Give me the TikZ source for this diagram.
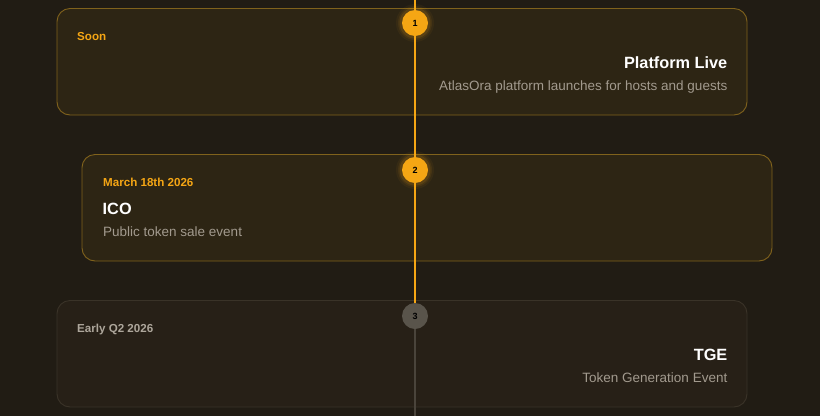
\documentclass[tikz,border=0pt]{standalone}
\usepackage{fontspec}
\setmainfont{Liberation Sans}
\definecolor{bg}{HTML}{211C14}
\definecolor{cardA}{HTML}{2D2514}
\definecolor{cardC}{HTML}{272017}
\definecolor{goldline}{HTML}{80621C}
\definecolor{greyline}{HTML}{3A3328}
\definecolor{accent}{HTML}{F5A614}
\definecolor{subgrey}{HTML}{A29A8E}
\definecolor{dategrey}{HTML}{ADA69B}
\definecolor{dotgrey}{HTML}{59544B}
\definecolor{railgrey}{HTML}{4A443B}
\begin{document}
\begin{tikzpicture}[x=1pt,y=-1pt,
  activecard/.style={draw=goldline, fill=cardA, line width=0.9pt, rounded corners=13pt},
  futurecard/.style={draw=greyline, fill=cardC, line width=0.9pt, rounded corners=13pt},
  dot/.style={circle, minimum size=26pt, inner sep=0pt, font=\fontsize{9}{10}\selectfont\bfseries, text=black},
  datetxt/.style={anchor=base west, inner sep=0pt, font=\fontsize{11.6}{13}\selectfont\bfseries},
  titletxt/.style={inner sep=0pt, font=\fontsize{16.3}{18}\selectfont\bfseries, text=white},
  desctxt/.style={inner sep=0pt, font=\fontsize{13.5}{15}\selectfont, text=subgrey}]
\fill[bg] (0,0) rectangle (820,416);
\useasboundingbox (0,0) rectangle (820,416);
% cards
\draw[activecard] (57,8.5) rectangle (747,115);
\draw[activecard] (82,154.5) rectangle (772,261);
\draw[futurecard] (57,300.5) rectangle (747,407);
% rail
\coordinate (top) at (415,0);
\coordinate (bot) at (415,416);
% glows
\foreach \cy in {23,170}{
  \foreach \r/\o in {19/0.05,17/0.08,15.5/0.12}{
    \fill[accent,opacity=\o] (415,\cy) circle (\r);
  }
}
\node[dot, fill=accent] (d1) at (415,23) {1};
\node[dot, fill=accent] (d2) at (415,170) {2};
\node[dot, fill=dotgrey] (d3) at (415,316) {3};
\draw[accent, line width=1.6pt] (top) -- (d1.north);
\draw[accent, line width=1.6pt] (d1.south) -- (d2.north);
\draw[accent, line width=1.6pt] (d2.south) -- (d3.north);
\draw[railgrey, line width=1.6pt] (d3.south) -- (bot);
% card 1
\node[datetxt, text=accent] (s1) at (77,40) {Soon};
\node[titletxt, anchor=base east] (t1) at (727.5,68) {Platform Live};
\node[desctxt, anchor=base east] (x1) at (727.5,90) {AtlasOra platform launches for hosts and guests};
% card 2
\node[datetxt, text=accent] (s2) at (103,186) {March 18th 2026};
\node[titletxt, anchor=base west] (t2) at (102.5,214) {ICO};
\node[desctxt, anchor=base west] (x2) at (103,236) {Public token sale event};
% card 3
\node[datetxt, text=dategrey] (s3) at (77,332) {Early Q2 2026};
\node[titletxt, anchor=base east] (t3) at (727.5,360) {TGE};
\node[desctxt, anchor=base east] (x3) at (727.5,382) {Token Generation Event};
\end{tikzpicture}
\end{document}
